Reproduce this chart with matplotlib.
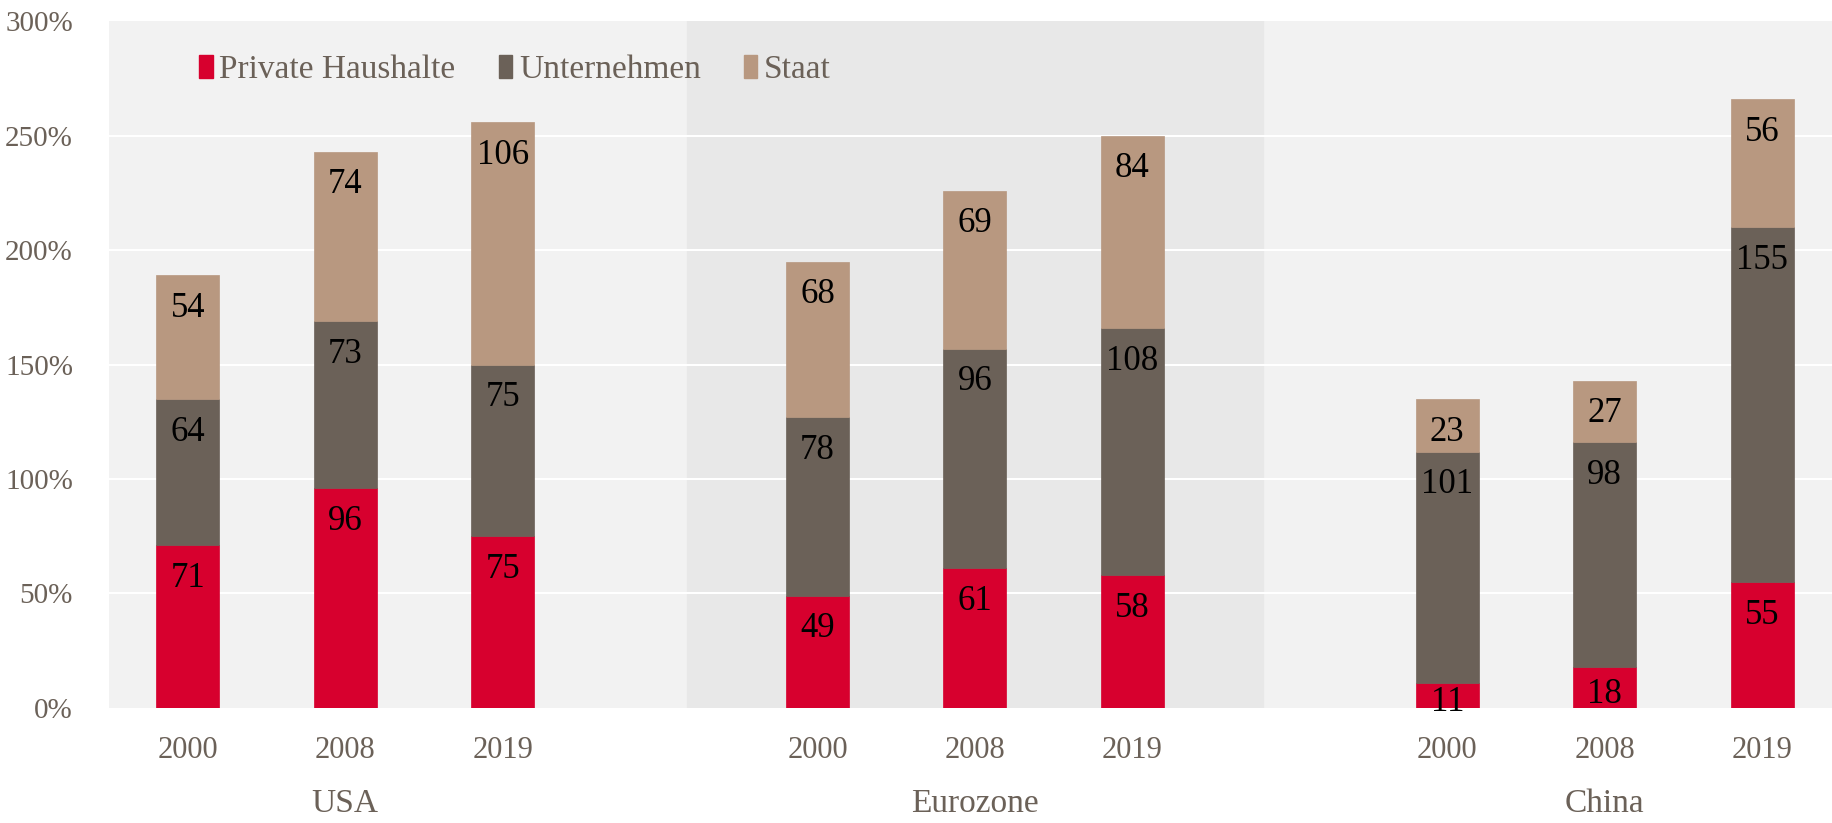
import matplotlib
matplotlib.use("Agg")
import matplotlib.pyplot as plt
from matplotlib.patches import Patch
import matplotlib.transforms as mtransforms

# data
regions = ["USA", "Eurozone", "China"]
years = ["2000", "2008", "2019"]
haushalte = [71, 96, 75, 49, 61, 58, 11, 18, 55]
unternehmen = [64, 73, 75, 78, 96, 108, 101, 98, 155]
staat = [54, 74, 106, 68, 69, 84, 23, 27, 56]
series_names = ["Private Haushalte", "Unternehmen", "Staat"]

colors = ["#d7002e", "#6b6158", "#b89880"]
text_grey = "#6b6158"

plt.rcParams["font.family"] = ["Liberation Serif", "DejaVu Serif"]

positions = [g * 4 + i for g in range(3) for i in range(3)]

fig = plt.figure(figsize=(18.33, 8.23), dpi=100)
ax = fig.add_axes([0.0595, 0.14, 0.9405, 0.834])

ax.set_facecolor("#f2f2f2")
ax.axvspan(3.17, 6.83, color="#e8e8e8", zorder=0)
for y in range(50, 300, 50):
    ax.axhline(y, color="white", lw=1.5, zorder=1)

bottom = [0] * 9
for vals, col in zip([haushalte, unternehmen, staat], colors):
    ax.bar(positions, vals, 0.4, bottom=bottom, color=col, zorder=2,
           edgecolor=col, linewidth=0.5)
    for x, b, v in zip(positions, bottom, vals):
        top = b + v
        ypos = max(top - 14.5, b + v / 2 - 3)
        ax.text(x, ypos, str(v), ha="center", va="center", fontsize=25,
                color="black", zorder=3)
    bottom = [b + v for b, v in zip(bottom, vals)]

ax.set_xlim(-0.5, 10.45)
ax.set_ylim(0, 300)
ax.set_yticks(range(0, 301, 50))
ax.set_yticklabels([f"{y}%" for y in range(0, 301, 50)])
ax.set_xticks(positions)
ax.set_xticklabels(years * 3)
ax.tick_params(axis="both", length=0, labelcolor=text_grey)
ax.tick_params(axis="y", pad=26, labelsize=21)
ax.tick_params(axis="x", pad=20, labelsize=22)
for s in ax.spines.values():
    s.set_visible(False)

trans = mtransforms.blended_transform_factory(ax.transData, fig.transFigure)
for g, name in enumerate(regions):
    ax.text(g * 4 + 1, 0.005, name, transform=trans, ha="center", va="bottom",
            fontsize=24, color=text_grey)

handles = [Patch(color=c) for c in colors]
ax.legend(handles, series_names, loc="upper left", bbox_to_anchor=(0.035, 0.995),
          ncol=3, frameon=False, fontsize=24, labelcolor=text_grey,
          handlelength=0.4, handleheight=0.7, handletextpad=0.2,
          columnspacing=1.3)

fig.savefig("out.png", dpi=100)
